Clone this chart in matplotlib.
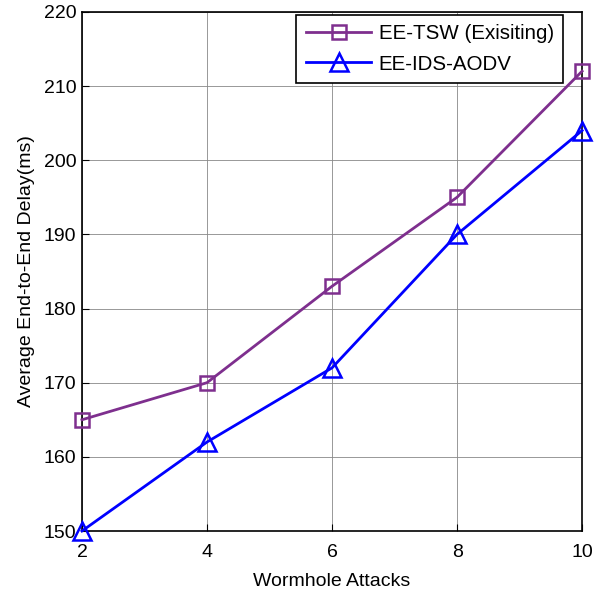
import matplotlib.pyplot as plt

# data
attacks = [2, 4, 6, 8, 10]
tsw_delay = [165, 170, 183, 195, 212]
ids_delay = [150, 162, 172, 190, 204]

plt.rcParams['font.family'] = ['Liberation Sans', 'DejaVu Sans']

fig = plt.figure(figsize=(6.07, 5.92), dpi=100)
ax = fig.add_axes([0.135, 0.103, 0.824, 0.877])

ax.plot(attacks, tsw_delay, color='#7E2F8E', lw=2, marker='s', ms=10,
        mfc='none', mew=1.8, label='EE-TSW (Exisiting)', clip_on=False, zorder=3)
ax.plot(attacks, ids_delay, color='#0000FF', lw=2, marker='^', ms=13,
        mfc='none', mew=1.8, label='EE-IDS-AODV', clip_on=False, zorder=3)

ax.set_xlim(2, 10)
ax.set_ylim(150, 220)
ax.set_xticks(attacks)
ax.set_yticks(range(150, 221, 10))
ax.grid(True, color='#888888', lw=0.6)
ax.tick_params(direction='in', labelsize=14, length=5)
ax.tick_params(axis='x', pad=9)
ax.tick_params(axis='y', pad=4)
for s in ax.spines.values():
    s.set_linewidth(1.2)

ax.set_xlabel('Wormhole Attacks', fontsize=14, labelpad=9)
ax.set_ylabel('Average End-to-End Delay(ms)', fontsize=14, labelpad=6)

leg = ax.legend(loc='upper right', fontsize=14.8, fancybox=False,
                edgecolor='black', framealpha=1, handlelength=3.2,
                handletextpad=0.35, labelspacing=0.55, borderpad=0.45,
                borderaxespad=0, bbox_to_anchor=(563 / 607, 1 - 15 / 592),
                bbox_transform=fig.transFigure)
leg.get_frame().set_linewidth(1.2)

fig.savefig('out.png', dpi=100)
